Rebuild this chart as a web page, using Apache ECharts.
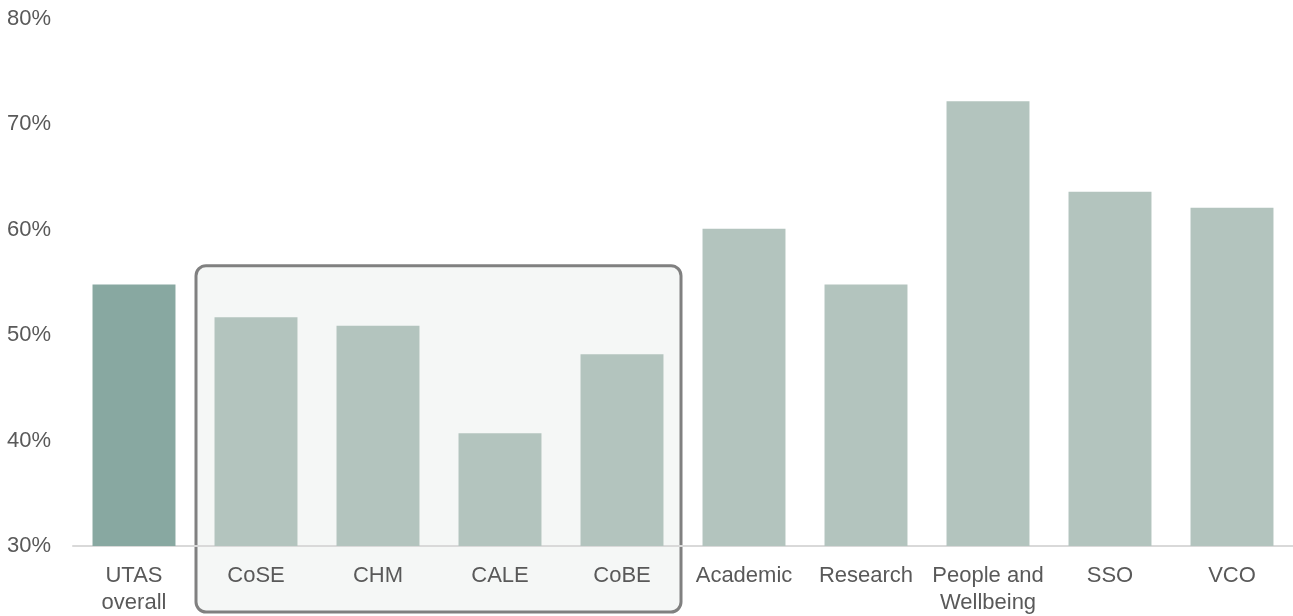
<!DOCTYPE html>
<html>
<head>
<meta charset="utf-8">
<script src="https://cdn.jsdelivr.net/npm/echarts@6/dist/echarts.min.js"></script>
<style>
html,body{margin:0;padding:0;background:#fff;}
#chart{width:1293px;height:616px;}
</style>
</head>
<body>
<div id="chart"></div>
<script>
const categories = ["UTAS\noverall", "CoSE", "CHM", "CALE", "CoBE", "Academic", "Research", "People and\nWellbeing", "SSO", "VCO"];
const values = [54.8, 51.7, 50.9, 40.7, 48.2, 60.1, 54.8, 72.2, 63.6, 62.1];
const highlightIndex = 0;
const boxStart = 1, boxEnd = 4, boxTopValue = 56.6;

const chart = echarts.init(document.getElementById('chart'));
const textColor = '#595959';
const font = 'Liberation Sans, Arial, sans-serif';

const option = {
  animation: false,
  grid: {left: 73, right: 0, top: 19, bottom: 66, containLabel: false},
  xAxis: {
    type: 'category',
    data: categories,
    axisLine: {lineStyle: {color: '#d9d9d9', width: 2}},
    axisTick: {show: false},
    axisLabel: {color: textColor, fontSize: 22, fontFamily: font, margin: 16, lineHeight: 27, interval: 0}
  },
  yAxis: {
    type: 'value',
    min: 30, max: 80, interval: 10,
    splitLine: {show: false},
    axisLine: {show: false},
    axisTick: {show: false},
    axisLabel: {color: textColor, fontSize: 22, fontFamily: font, margin: 22, formatter: v => v + '%'}
  },
  series: [{
    type: 'bar',
    barWidth: '68%',
    z: 5,
    data: values.map((v, i) => ({value: v, itemStyle: {color: i === highlightIndex ? '#88a8a1' : '#b3c4be'}}))
  }]
};
chart.setOption(option);

// highlight box behind the college bars
const p0 = chart.convertToPixel({gridIndex: 0}, [boxStart, boxTopValue]);
const p1 = chart.convertToPixel({gridIndex: 0}, [boxEnd, boxTopValue]);
const step = (p1[0] - p0[0]) / (boxEnd - boxStart);
const left = p0[0] - step / 2 + 1;
const right = p1[0] + step / 2 - 2;
chart.setOption({
  graphic: [{
    type: 'rect',
    z: -10,
    zlevel: 0,
    shape: {x: left, y: p0[1], width: right - left, height: 612 - p0[1], r: 10},
    style: {fill: '#f5f7f6', stroke: '#808080', lineWidth: 3}
  }]
});
</script>
</body>
</html>
